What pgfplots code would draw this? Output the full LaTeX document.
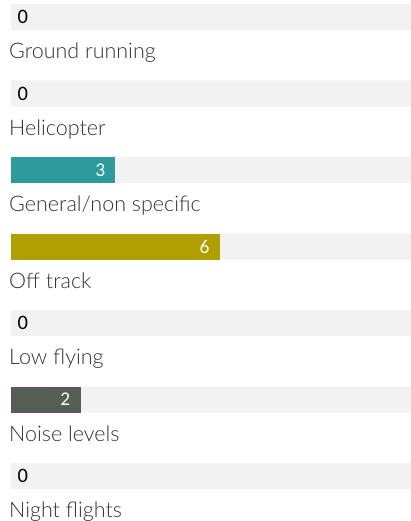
\documentclass[border=0pt]{standalone}
\usepackage{pgfplots}
\pgfplotsset{compat=1.18}
\usepackage{fontspec}
\setmainfont{Carlito}
\IfFontExistsTF{Lato Light}{%
  \newfontfamily\labelfont{Lato Light}\def\labelsize{21.5}}{%
  \newfontfamily\labelfont{Carlito}\def\labelsize{22.5}}
\definecolor{bggray}{HTML}{F2F2F2}
\definecolor{cteal}{HTML}{2E9A9E}
\definecolor{colive}{HTML}{AF9F00}
\definecolor{cdark}{HTML}{545E55}
\definecolor{ctext}{HTML}{333333}
\begin{document}
\begin{tikzpicture}
\begin{axis}[
  scale only axis, width=400pt, height=521pt,
  xmin=0, xmax=11.5, ymin=-0.222, ymax=6.588, y dir=reverse,
  axis lines=none, ticks=none, clip=false,
  /pgf/number format/assume math mode=true,
  mybar/.style={xbar, bar width=26pt, bar shift=0pt, draw=none},
  valnode/.style={nodes near coords, nodes near coords style={anchor=east, inner sep=0pt, xshift=-10pt, text=white, font=\fontsize{19.5}{22}\selectfont}},
]
% background tracks
\addplot[mybar, fill=bggray] coordinates {(11.5,0) (11.5,1) (11.5,2) (11.5,3) (11.5,4) (11.5,5) (11.5,6)};
% values
\addplot[mybar, fill=cteal, valnode] coordinates {(3,2)};
\addplot[mybar, fill=colive, valnode] coordinates {(6,3)};
\addplot[mybar, fill=cdark, valnode] coordinates {(2,5)};
% zero values
\addplot[draw=none, mark=none, point meta=x, nodes near coords, nodes near coords style={anchor=west, inner sep=0pt, xshift=6.5pt, text=black, font=\fontsize{20.5}{22}\selectfont}] coordinates {(0,0) (0,1) (0,4) (0,6)};
% category labels
\addplot[draw=none, mark=none, nodes near coords, point meta=explicit symbolic,
  nodes near coords style={anchor=base west, inner sep=0pt, xshift=-2pt, text=ctext, font=\labelfont\fontsize{\labelsize}{26}\selectfont}]
  table[col sep=comma, row sep=\\, meta=label] {
x,y,label\\
0,0.545,Ground running\\
0,1.545,Helicopter\\
0,2.545,General/non specific\\
0,3.545,Off track\\
0,4.545,Low flying\\
0,5.545,Noise levels\\
0,6.545,Night flights\\
};
\end{axis}
\pgfresetboundingbox
\useasboundingbox (-11pt,0pt) rectangle (400pt,521pt);
\end{tikzpicture}
\end{document}
